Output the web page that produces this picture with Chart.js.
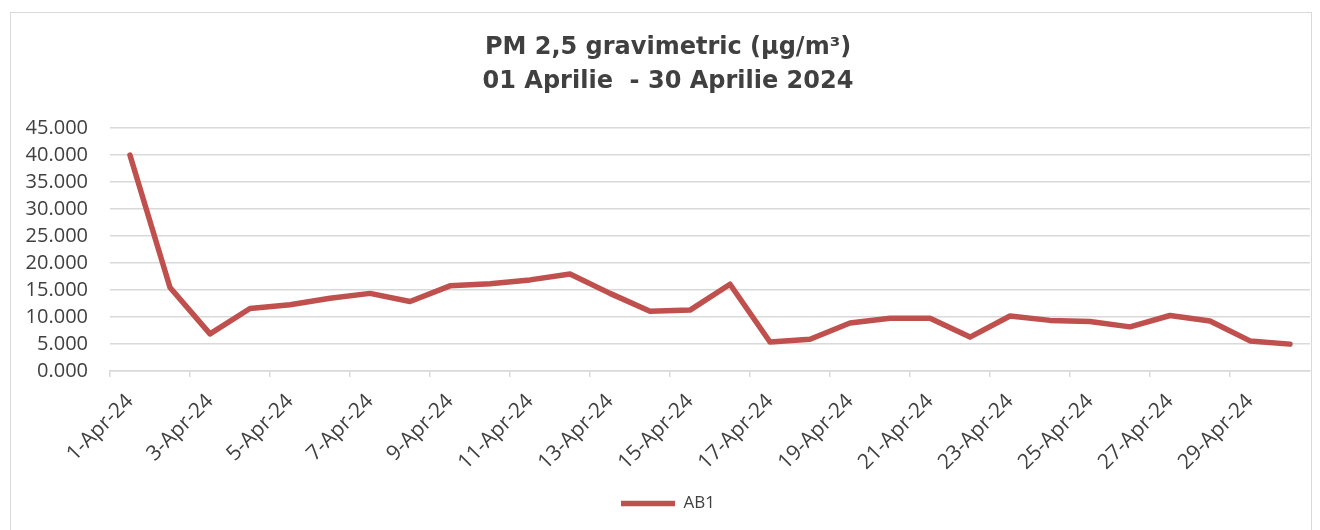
<!DOCTYPE html>
<html>
<head>
<meta charset="utf-8">
<script src="https://cdn.jsdelivr.net/npm/chart.js@4.4.1/dist/chart.umd.min.js"></script>
<style>
  html, body { margin: 0; padding: 0; background: #fff; }
  #frame { position: absolute; left: 10px; top: 12px; width: 1302px; height: 530px; border: 1px solid #d9d9d9; box-sizing: border-box; }
  #wrap { position: absolute; left: 0; top: 0; width: 1320px; height: 530px; }
</style>
</head>
<body>
<div id="frame"></div>
<div id="wrap"><canvas id="pmChart"></canvas></div>
<script>
// PM 2.5 daily values, April 2024
const days = [
  '1-Apr-24', '2-Apr-24', '3-Apr-24', '4-Apr-24', '5-Apr-24', '6-Apr-24',
  '7-Apr-24', '8-Apr-24', '9-Apr-24', '10-Apr-24', '11-Apr-24', '12-Apr-24',
  '13-Apr-24', '14-Apr-24', '15-Apr-24', '16-Apr-24', '17-Apr-24', '18-Apr-24',
  '19-Apr-24', '20-Apr-24', '21-Apr-24', '22-Apr-24', '23-Apr-24', '24-Apr-24',
  '25-Apr-24', '26-Apr-24', '27-Apr-24', '28-Apr-24', '29-Apr-24', '30-Apr-24'
];
const ab1 = [
  40.0, 15.5, 6.9, 11.6, 12.3, 13.5, 14.4, 12.9, 15.8, 16.2,
  16.9, 18.0, 14.4, 11.1, 11.3, 16.1, 5.4, 5.9, 8.9, 9.8,
  9.8, 6.3, 10.2, 9.4, 9.2, 8.2, 10.3, 9.3, 5.6, 5.0
];
const yTicks = [0, 5, 10, 15, 20, 25, 30, 35, 40, 45];

const lineColor = '#C0504D';
const gridColor = '#d9d9d9';
const textColor = '#404040';

new Chart(document.getElementById('pmChart'), {
  type: 'line',
  data: {
    labels: days,
    datasets: [{
      label: 'AB1',
      data: ab1,
      borderColor: lineColor,
      backgroundColor: lineColor,
      borderWidth: 5.5,
      borderCapStyle: 'round',
      borderJoinStyle: 'round',
      pointRadius: 0,
      tension: 0
    }]
  },
  options: {
    responsive: true,
    maintainAspectRatio: false,
    animation: false,
    layout: { padding: { left: 26, right: 10, top: 31, bottom: 8 } },
    plugins: {
      title: {
        display: true,
        text: ['PM 2,5 gravimetric (\u00b5g/m\u00b3)', '01 Aprilie  - 30 Aprilie 2024'],
        color: textColor,
        font: { family: "'DejaVu Sans', sans-serif", size: 24, weight: 'bold', lineHeight: 1.4 },
        padding: { top: 0, bottom: 30 }
      },
      legend: {
        position: 'bottom',
        labels: {
          color: textColor,
          font: { family: "'Open Sans', sans-serif", size: 17 },
          usePointStyle: true,
          pointStyle: 'line',
          pointStyleWidth: 54,
          boxWidth: 54,
          padding: 8
        }
      },
      tooltip: { enabled: false }
    },
    scales: {
      x: {
        offset: true,
        afterFit: (scale) => { scale.paddingLeft = 0; },
        grid: {
          offset: true,
          drawOnChartArea: false,
          drawTicks: true,
          tickLength: 6,
          lineWidth: 1.5,
          color: (c) => (c.index % 2 === 0 ? gridColor : 'rgba(0,0,0,0)')
        },
        border: { color: gridColor, width: 1.5 },
        ticks: {
          autoSkip: false,
          maxRotation: 45,
          minRotation: 45,
          padding: 12,
          color: textColor,
          font: { family: "'Open Sans', sans-serif", size: 21 },
          callback: function (v, i) { return i % 2 === 0 ? this.getLabelForValue(v) : ''; }
        }
      },
      y: {
        min: 0,
        max: 45,
        afterBuildTicks: (axis) => { axis.ticks = yTicks.map(v => ({ value: v })); },
        afterFit: (scale) => { scale.width = 84; },
        grid: { color: gridColor, lineWidth: 1.5, drawTicks: false },
        border: { display: false },
        ticks: {
          autoSkip: false,
          padding: 22,
          color: textColor,
          font: { family: "'Open Sans', sans-serif", size: 20 },
          callback: (v) => Number(v).toFixed(3)
        }
      }
    }
  }
});
</script>
</body>
</html>
